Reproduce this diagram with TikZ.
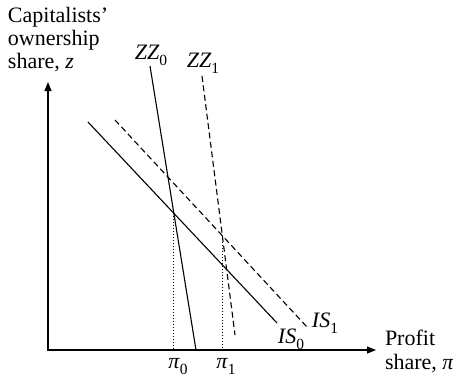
\documentclass[tikz,border=0pt]{standalone}
\usepackage{fontspec}
\setmainfont{Liberation Serif}
\usetikzlibrary{arrows.meta,intersections}
\newcommand{\msub}[1]{\raisebox{-0.28em}{\fontsize{15.5}{15.5}\selectfont\upshape #1}}
\begin{document}
\begin{tikzpicture}[x=1pt,y=-1pt,
  lbl/.style={font=\fontsize{22}{24}\selectfont, inner sep=0pt, outer sep=0pt},
  axisline/.style={line width=1.2pt, {Triangle[length=9pt,width=7pt]}-{Triangle[length=9pt,width=7pt]}},
  solidcurve/.style={line width=1.1pt},
  dashcurve/.style={line width=1.1pt, dash pattern=on 6pt off 3.5pt},
  guide/.style={line width=0.9pt, dash pattern=on 1pt off 2pt}]
\useasboundingbox (0,0) rectangle (453,378);
% axes
\coordinate (O) at (48,350);
\coordinate (Ytop) at (48,82);
\coordinate (Xend) at (376,350);
\draw[axisline] (Ytop) -- (O) -- (Xend);
% curves
\coordinate (zz0a) at (150,66);
\coordinate (zz0b) at (196,350);
\coordinate (zz1a) at (202,76);
\coordinate (zz1b) at (235,335);
\coordinate (is0a) at (88,122);
\coordinate (is0b) at (277,323);
\coordinate (is1a) at (115,120);
\coordinate (is1b) at (307,327);
\draw[solidcurve, name path=zz0] (zz0a) -- (zz0b);
\draw[dashcurve, name path=zz1] (zz1a) -- (zz1b);
\draw[solidcurve, name path=is0] (is0a) -- (is0b);
\draw[dashcurve, name path=is1] (is1a) -- (is1b);
\path[name intersections={of=zz0 and is0, by=E0}];
\path[name intersections={of=zz1 and is1, by=E1}];
\draw[guide] (E0) -- (E0 |- O);
\draw[guide] (E1) -- (E1 |- O);
% labels
\node[lbl, anchor=base west] (yl1) at (8,22) {Capitalists’};
\node[lbl, anchor=base west] (yl2) at (8,45) {ownership};
\node[lbl, anchor=base west] (yl3) at (8,68) {share, \textit{z}};
\node[lbl, anchor=base west] (xl1) at (385,345) {Profit};
\node[lbl, anchor=base west] (xl2) at (385,369) {share, \textit{π}};
\node[lbl, anchor=base] (lzz0) at (151,59) {\textit{ZZ}\msub{0}};
\node[lbl, anchor=base] (lzz1) at (203,67) {\textit{ZZ}\msub{1}};
\node[lbl, anchor=base] (lis0) at (291,343) {\textit{IS}\msub{0}};
\node[lbl, anchor=base] (lis1) at (325,327) {\textit{IS}\msub{1}};
\node[lbl, anchor=base] (lp0) at (178,368) {\textit{π}\msub{0}};
\node[lbl, anchor=base] (lp1) at (226,368) {\textit{π}\msub{1}};
\end{tikzpicture}
\end{document}
